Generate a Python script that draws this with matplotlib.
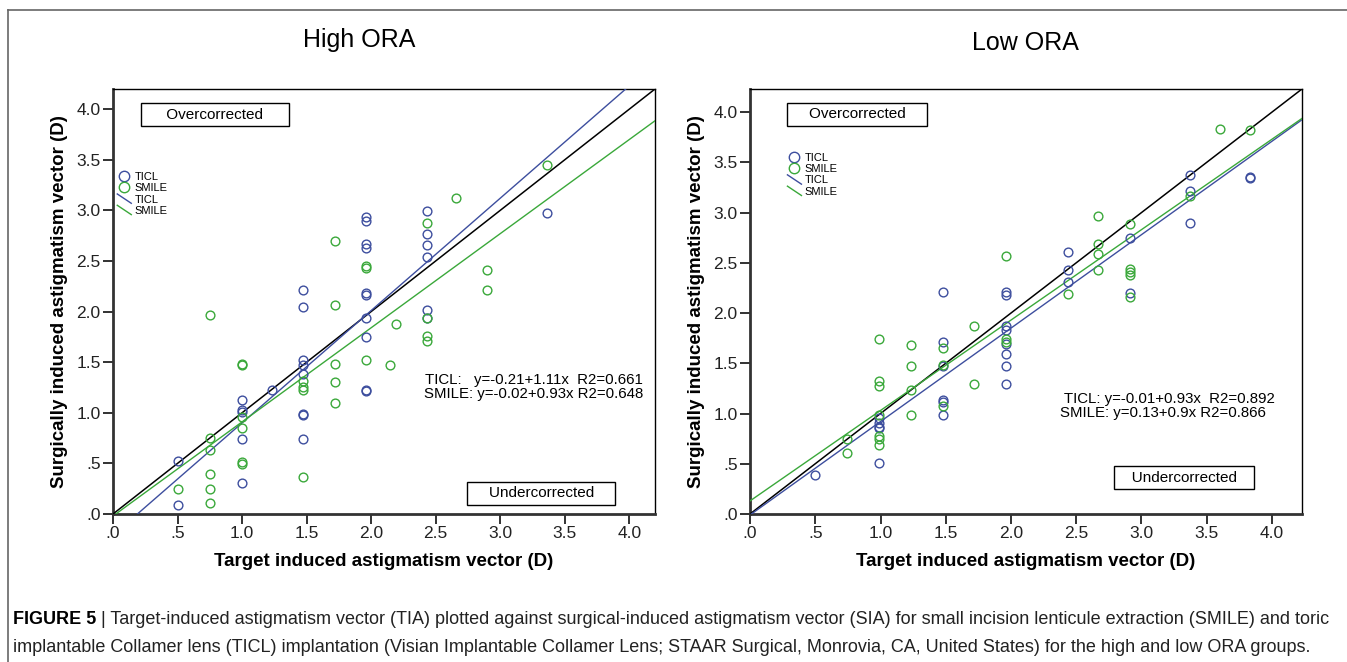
import matplotlib.pyplot as plt
import numpy as np
from matplotlib.lines import Line2D
from matplotlib.legend_handler import HandlerBase

plt.rcParams['font.family'] = ['Liberation Sans', 'DejaVu Sans']

# ---- data ----
# High ORA
hi_ticl_x = [0.5, 0.5, 1.0, 1.0, 1.0, 1.0, 1.0, 1.23, 1.47, 1.47, 1.47, 1.47, 1.47, 1.47, 1.47,
             1.47, 1.96, 1.96, 1.96, 1.96, 1.96, 1.96, 1.96, 1.96, 1.96, 1.96, 2.43, 2.43, 2.43,
             2.43, 2.43, 2.43, 3.36]
hi_ticl_y = [0.52, 0.09, 1.13, 1.03, 1.01, 0.74, 0.31, 1.23, 2.21, 2.05, 1.52, 1.47, 1.38, 0.99,
             0.98, 0.74, 2.93, 2.90, 2.67, 2.63, 2.18, 2.16, 1.94, 1.75, 1.23, 1.22, 2.99, 2.77,
             2.66, 2.54, 2.02, 1.94, 2.97]
hi_smile_x = [0.5, 0.75, 0.75, 0.75, 0.75, 0.75, 0.75, 1.0, 1.0, 1.0, 1.0, 1.0, 1.0, 1.47, 1.47,
              1.47, 1.47, 1.72, 1.72, 1.72, 1.72, 1.72, 1.96, 1.96, 1.96, 2.15, 2.19, 2.43, 2.43,
              2.43, 2.43, 2.66, 2.90, 2.90, 3.36]
hi_smile_y = [0.25, 1.97, 0.75, 0.63, 0.40, 0.25, 0.11, 1.48, 1.47, 0.96, 0.85, 0.51, 0.49, 1.31,
              1.25, 1.23, 0.37, 2.70, 2.07, 1.48, 1.30, 1.10, 2.45, 2.43, 1.52, 1.47, 1.88, 2.88,
              1.94, 1.76, 1.71, 3.12, 2.41, 2.21, 3.45]
hi_fit_ticl = (-0.21, 1.11)
hi_fit_smile = (-0.02, 0.93)

# Low ORA
lo_ticl_x = [0.5, 0.99, 0.99, 0.99, 0.99, 0.99, 1.48, 1.48, 1.48, 1.48, 1.48, 1.48, 1.96, 1.96,
             1.96, 1.96, 1.96, 1.96, 1.96, 1.96, 2.44, 2.44, 2.44, 2.91, 2.91, 3.37, 3.37, 3.37,
             3.83, 3.83]
lo_ticl_y = [0.39, 0.96, 0.91, 0.87, 0.86, 0.51, 2.21, 1.71, 1.47, 1.13, 1.11, 0.99, 2.21, 2.18,
             1.87, 1.83, 1.69, 1.59, 1.47, 1.29, 2.61, 2.43, 2.31, 2.75, 2.20, 3.37, 3.21, 2.90,
             3.35, 3.34]
lo_smile_x = [0.74, 0.74, 0.99, 0.99, 0.99, 0.99, 0.99, 0.99, 0.99, 1.23, 1.23, 1.23, 1.23, 1.48,
              1.48, 1.48, 1.72, 1.72, 1.96, 1.96, 1.96, 2.44, 2.67, 2.67, 2.67, 2.67, 2.91, 2.91,
              2.91, 2.91, 2.91, 3.37, 3.60, 3.83]
lo_smile_y = [0.75, 0.61, 1.74, 1.32, 1.27, 0.99, 0.78, 0.75, 0.69, 1.68, 1.47, 1.23, 0.99, 1.65,
              1.48, 1.07, 1.87, 1.29, 2.57, 1.74, 1.71, 2.19, 2.97, 2.69, 2.59, 2.43, 2.89, 2.44,
              2.41, 2.38, 2.16, 3.16, 3.83, 3.82]
lo_fit_ticl = (-0.01, 0.93)
lo_fit_smile = (0.13, 0.90)

ticks = [0, 0.5, 1.0, 1.5, 2.0, 2.5, 3.0, 3.5, 4.0]
tick_labels = ['.0', '.5', '1.0', '1.5', '2.0', '2.5', '3.0', '3.5', '4.0']

BLUE = '#3d4e9e'
GREEN = '#3aa83a'


class DiagHandler(HandlerBase):
    # SPSS style slanted line in the legend
    def create_artists(self, legend, orig_handle, xdescent, ydescent, width, height,
                       fontsize, trans):
        ln = Line2D([0.1 * width, width], [height * 1.1, -0.1 * height],
                    color=orig_handle.get_color(), lw=orig_handle.get_linewidth())
        ln.set_transform(trans)
        return [ln]


def panel(ax, lim, tx, ty, sx, sy, fit_t, fit_s, legend_anchor):
    ax.set_xlim(0, lim)
    ax.set_ylim(0, lim)
    xs = np.array([0, lim])
    ax.plot(xs, xs, color='black', lw=1.1, zorder=3)
    ax.plot(xs, fit_t[0] + fit_t[1] * xs, color=BLUE, lw=1, zorder=3)
    ax.plot(xs, fit_s[0] + fit_s[1] * xs, color=GREEN, lw=1, zorder=3)
    ax.plot(tx, ty, 'o', mfc='none', mec=BLUE, ms=6.3, mew=1, zorder=4)
    ax.plot(sx, sy, 'o', mfc='none', mec=GREEN, ms=6.3, mew=1, zorder=4)

    ax.set_xticks(ticks)
    ax.set_xticklabels(tick_labels)
    ax.set_yticks(ticks)
    ax.set_yticklabels(tick_labels)
    ax.tick_params(direction='out', length=7, width=1.3, labelsize=12.5,
                   colors='#222222', pad=2)
    for s in ['left', 'bottom']:
        ax.spines[s].set_linewidth(2)
        ax.spines[s].set_color('#333333')
    for s in ['top', 'right']:
        ax.spines[s].set_linewidth(1)
        ax.spines[s].set_color('black')

    ax.set_xlabel('Target induced astigmatism vector (D)', fontsize=13.5,
                  fontweight='bold', labelpad=8)
    ax.set_ylabel('Surgically induced astigmatism vector (D)', fontsize=13.5,
                  fontweight='bold', labelpad=6)

    handles = [Line2D([], [], ls='none', marker='o', mfc='none', mec=BLUE, ms=7.5),
               Line2D([], [], ls='none', marker='o', mfc='none', mec=GREEN, ms=7.5),
               Line2D([], [], color=BLUE, lw=1),
               Line2D([], [], color=GREEN, lw=1)]
    ax.legend(handles, ['TICL', 'SMILE', 'TICL', 'SMILE'], loc='upper left',
              bbox_to_anchor=legend_anchor, frameon=False, fontsize=8,
              handlelength=1.4, handletextpad=0.3, labelspacing=0.12,
              borderaxespad=0, borderpad=0,
              handler_map={handles[2]: DiagHandler(), handles[3]: DiagHandler()})


fig = plt.figure(figsize=(13.47, 6.62), dpi=100)
ax1 = fig.add_axes([0.0839, 0.2236, 0.4024, 0.642])
ax2 = fig.add_axes([0.5568, 0.2236, 0.4098, 0.642])

panel(ax1, 4.2, hi_ticl_x, hi_ticl_y, hi_smile_x, hi_smile_y, hi_fit_ticl, hi_fit_smile,
      (0.005, 0.805))
panel(ax2, 4.23, lo_ticl_x, lo_ticl_y, lo_smile_x, lo_smile_y, lo_fit_ticl, lo_fit_smile,
      (0.065, 0.85))

box = dict(boxstyle='square,pad=0.3', fc='white', ec='black', lw=1)
# High ORA annotations
ax1.text(0.188, 0.939, '     Overcorrected     ', transform=ax1.transAxes, ha='center',
         va='center', fontsize=11, bbox=box)
ax1.text(0.79, 0.049, '    Undercorrected    ', transform=ax1.transAxes, ha='center',
         va='center', fontsize=11, bbox=box)
ax1.text(0.978, 0.298, 'TICL:   y=-0.21+1.11x  R2=0.661\nSMILE: y=-0.02+0.93x R2=0.648',
         transform=ax1.transAxes, ha='right', va='center', fontsize=10.8, linespacing=1.0)
# Low ORA annotations
ax2.text(0.194, 0.94, '    Overcorrected    ', transform=ax2.transAxes, ha='center',
         va='center', fontsize=11, bbox=box)
ax2.text(0.786, 0.085, '   Undercorrected   ', transform=ax2.transAxes, ha='center',
         va='center', fontsize=11, bbox=box)
ax2.text(0.562, 0.255, ' TICL: y=-0.01+0.93x  R2=0.892\nSMILE: y=0.13+0.9x R2=0.866',
         transform=ax2.transAxes, ha='left', va='center', fontsize=10.8, linespacing=1.0)

fig.text(0.267, 0.94, 'High ORA', ha='center', va='center', fontsize=18)
fig.text(0.761, 0.935, 'Low ORA', ha='center', va='center', fontsize=18)

# outer frame (left and top edges)
fig.add_artist(Line2D([8 / 1347, 8 / 1347], [0, 1 - 10 / 662], color='#666666', lw=1.2,
                      transform=fig.transFigure))
fig.add_artist(Line2D([8 / 1347, 1], [1 - 10 / 662, 1 - 10 / 662], color='#666666', lw=1.2,
                      transform=fig.transFigure))

# caption: bold label, then plain text placed right after it
lbl = fig.text(13 / 1347, 1 - 620 / 662, 'FIGURE 5', fontsize=13, fontweight='bold',
               va='center', ha='left', color='black')
fig.canvas.draw()
bb = lbl.get_window_extent(fig.canvas.get_renderer())
fig.text(bb.x1 / 1347, 1 - 620 / 662, ' | Target-induced astigmatism vector (TIA) '
         'plotted against surgical-induced astigmatism vector (SIA) for small incision lenticule '
         'extraction (SMILE) and toric', fontsize=13, va='center', ha='left', color='#222222')
fig.text(13 / 1347, 1 - 648 / 662, 'implantable Collamer lens (TICL) implantation (Visian '
         'Implantable Collamer Lens; STAAR Surgical, Monrovia, CA, United States) for the high '
         'and low ORA groups.', fontsize=13, va='center', ha='left', color='#222222')

fig.savefig('out.png', dpi=100)
